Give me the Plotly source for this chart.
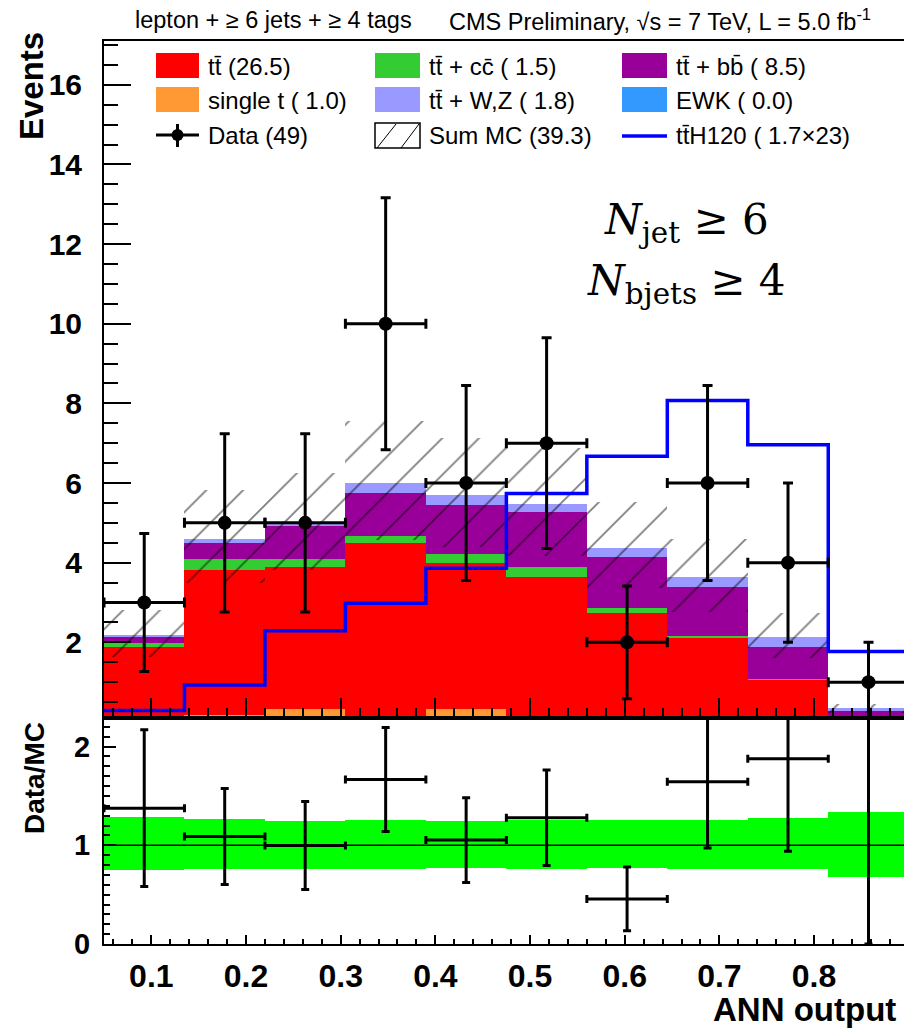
import numpy as np
import plotly.graph_objects as go

# ---------------- data ----------------
bin_edges = [0.05, 0.135, 0.22, 0.305, 0.39, 0.475, 0.56, 0.645, 0.73, 0.815, 0.9]
single_t = [0.00, 0.18, 0.33, 0.00, 0.33, 0.05, 0.03, 0.02, 0.02, 0.00]
ttbar    = [1.89, 3.64, 3.56, 4.50, 3.66, 3.60, 2.70, 2.08, 1.04, 0.02]
tt_cc    = [0.09, 0.27, 0.20, 0.16, 0.23, 0.25, 0.14, 0.07, 0.02, 0.00]
tt_bb    = [0.16, 0.41, 0.82, 1.08, 1.23, 1.37, 1.27, 1.21, 0.81, 0.25]
tt_wz    = [0.04, 0.09, 0.10, 0.26, 0.25, 0.20, 0.24, 0.27, 0.24, 0.07]
ewk      = [0.00, 0.00, 0.00, 0.00, 0.00, 0.00, 0.00, 0.00, 0.00, 0.00]
tth120_x23 = [0.29, 0.93, 2.29, 2.98, 3.86, 5.74, 6.67, 8.07, 6.96, 1.77]
data_counts = [3, 5, 5, 10, 6, 7, 2, 6, 4, 1]
mc_rel_up   = [0.29, 0.27, 0.25, 0.26, 0.25, 0.26, 0.26, 0.26, 0.28, 0.34]
mc_rel_down = [0.25, 0.24, 0.24, 0.24, 0.23, 0.24, 0.23, 0.24, 0.24, 0.32]

legend_labels = [
    ["tt\u0304 (26.5)", "single t ( 1.0)", "Data (49)"],
    ["tt\u0304 + cc\u0304 ( 1.5)", "tt\u0304 + W,Z ( 1.8)", "Sum MC (39.3)"],
    ["tt\u0304 + bb\u0304 ( 8.5)", "EWK ( 0.0)", "tt\u0304H120 ( 1.7\u00d723)"],
]
title_left = "lepton + \u2265 6 jets + \u2265 4 tags"
title_right = "CMS Preliminary, \u221as = 7 TeV, L = 5.0 fb<sup>-1</sup>"

C_ST, C_TT, C_CC, C_BB, C_WZ, C_EWK = "#FF9933", "#FF0000", "#33CC33", "#990099", "#9999FF", "#3399FF"

edges = np.array(bin_edges)
centers = (edges[:-1] + edges[1:]) / 2
widths = np.diff(edges)

stack = [(single_t, C_ST), (ttbar, C_TT), (tt_cc, C_CC), (tt_bb, C_BB), (tt_wz, C_WZ), (ewk, C_EWK)]
cum = np.cumsum([np.array(v, float) for v, _ in stack], axis=0)
total = cum[-1]
data_arr = np.array(data_counts, float)
derr = np.sqrt(data_arr)
rup = np.array(mc_rel_up)
rdn = np.array(mc_rel_down)

fig = go.Figure()

# stacked histograms (drawn top cumulative first, overlay mode)
for i in range(len(stack) - 1, -1, -1):
    fig.add_trace(go.Bar(x=centers, y=cum[i], width=widths, marker=dict(color=stack[i][1], line=dict(width=0)),
                         xaxis="x", yaxis="y", hoverinfo="skip"))

# hatched MC uncertainty
fig.add_trace(go.Bar(x=centers, base=total * (1 - rdn), y=total * (rup + rdn), width=widths,
                     marker=dict(color="rgba(0,0,0,0)", line=dict(width=0),
                                 pattern=dict(shape="/", fgcolor="black", bgcolor="rgba(0,0,0,0)",
                                              size=26, solidity=0.07, fillmode="overlay")),
                     xaxis="x", yaxis="y", hoverinfo="skip"))

# ttH step line
fig.add_trace(go.Scatter(x=bin_edges, y=tth120_x23 + [tth120_x23[-1]], mode="lines",
                         line=dict(color="#0000FF", width=3.5, shape="hv"), xaxis="x", yaxis="y"))

# data points
fig.add_trace(go.Scatter(x=centers, y=data_arr, mode="markers",
                         marker=dict(color="black", size=14),
                         error_x=dict(type="data", array=widths / 2, color="black", thickness=3, width=5),
                         error_y=dict(type="data", array=derr, color="black", thickness=3, width=5),
                         xaxis="x", yaxis="y"))

# ratio panel: band
fig.add_trace(go.Bar(x=centers, base=1 - rdn, y=rup + rdn, width=widths,
                     marker=dict(color="#00FF00", line=dict(width=0)), xaxis="x2", yaxis="y2", hoverinfo="skip"))
fig.add_trace(go.Scatter(x=[bin_edges[0], bin_edges[-1]], y=[1, 1], mode="lines",
                         line=dict(color="black", width=1.5), xaxis="x2", yaxis="y2"))
ratio = data_arr / total
ratio_err = derr / total
fig.add_trace(go.Scatter(x=centers, y=ratio, mode="markers", marker=dict(color="black", size=1),
                         error_x=dict(type="data", array=widths / 2, color="black", thickness=3, width=4),
                         error_y=dict(type="data", array=ratio_err, color="black", thickness=3, width=4),
                         xaxis="x2", yaxis="y2"))

W, H = 904, 1029
ML, MR, MT, MB = 104, 0, 41, 85
PW, PH = W - ML - MR, H - MT - MB
SPLIT = (944 - 718) / PH


def pxx(x):
    return (x - ML) / PW


def pxy(y):
    return (H - MB - y) / PH


tick_font = dict(family="Liberation Sans", size=30, color="black", weight="bold")
axis_common = dict(showgrid=False, zeroline=False, showline=True, linecolor="black", linewidth=2,
                   tickcolor="black", tickwidth=1.5, ticks="inside")

fig.update_layout(
    width=W, height=H, margin=dict(l=ML, r=MR, t=MT, b=MB),
    plot_bgcolor="white", paper_bgcolor="white", barmode="overlay", bargap=0, showlegend=False,
    xaxis=dict(domain=[0, 1], anchor="y", range=[0.05, 0.895], showticklabels=False, tick0=0, dtick=0.1,
               ticklen=20, minor=dict(ticks="inside", dtick=0.02, ticklen=10, tickcolor="black", tickwidth=1.5),
               mirror=True, **axis_common),
    yaxis=dict(domain=[SPLIT, 1], anchor="x", range=[0.1, 17.1], tick0=0, dtick=2, ticklen=27,
               minor=dict(ticks="inside", dtick=0.5, ticklen=14, tickcolor="black", tickwidth=1.5),
               tickfont=tick_font, ticklabelstandoff=14, **axis_common),
    xaxis2=dict(domain=[0, 1], anchor="y2", matches="x", range=[0.05, 0.895], tick0=0, dtick=0.1,
                ticklen=9, minor=dict(ticks="inside", dtick=0.02, ticklen=5, tickcolor="black", tickwidth=1.5),
                tickfont=dict(family="Liberation Sans", size=32, color="black", weight="bold"),
                ticklabelstandoff=3, mirror=True, **axis_common),
    yaxis2=dict(domain=[0, SPLIT], anchor="x2", range=[0, 2.29], tick0=0, dtick=1, ticklen=12,
                minor=dict(ticks="inside", dtick=0.1, ticklen=6, tickcolor="black", tickwidth=1.5),
                tickfont=dict(family="Liberation Sans", size=29, color="black", weight="bold"),
                ticklabelstandoff=6, **axis_common),
)

shapes = []
ann = []

# titles
ann.append(dict(x=pxx(133), y=pxy(20), xref="paper", yref="paper", xanchor="left", yanchor="middle",
                text=title_left, showarrow=False, font=dict(family="Liberation Sans", size=23.5, color="black")))
ann.append(dict(x=pxx(447), y=pxy(20), xref="paper", yref="paper", xanchor="left", yanchor="middle",
                text=title_right, showarrow=False, font=dict(family="Liberation Sans", size=23.5, color="black")))

# axis titles
ann.append(dict(x=pxx(31), y=pxy(30), xref="paper", yref="paper", xanchor="center", yanchor="top",
                text="Events", textangle=-90, showarrow=False,
                font=dict(family="Liberation Sans", size=33, color="black", weight="bold")))
ann.append(dict(x=pxx(34), y=pxy(720), xref="paper", yref="paper", xanchor="center", yanchor="top",
                text="Data/MC", textangle=-90, showarrow=False,
                font=dict(family="Liberation Sans", size=28, color="black", weight="bold")))
ann.append(dict(x=pxx(898), y=pxy(1009), xref="paper", yref="paper", xanchor="right", yanchor="middle",
                text="ANN output", showarrow=False,
                font=dict(family="Liberation Sans", size=33, color="black", weight="bold")))

# N_jet annotation
ann.append(dict(x=pxx(686), y=pxy(222), xref="paper", yref="paper", xanchor="center", yanchor="middle",
                text="<i>N</i><sub>jet</sub> \u2265 6", showarrow=False,
                font=dict(family="DejaVu Serif", size=42, color="black")))
ann.append(dict(x=pxx(686), y=pxy(283), xref="paper", yref="paper", xanchor="center", yanchor="middle",
                text="<i>N</i><sub>bjets</sub> \u2265 4", showarrow=False,
                font=dict(family="DejaVu Serif", size=42, color="black")))

# custom legend
col_box = [(156, 199), (375, 420), (622, 667)]
col_text = [206, 427, 674]
row_box = [(53, 78), (87, 112), (123, 148)]
row_mid = [66, 100, 136]
box_colors = [[C_TT, C_ST], [C_CC, C_WZ], [C_BB, C_EWK]]
for c in range(3):
    for r in range(2):
        shapes.append(dict(type="rect", xref="paper", yref="paper",
                           x0=pxx(col_box[c][0]), x1=pxx(col_box[c][1]),
                           y0=pxy(row_box[r][1]), y1=pxy(row_box[r][0]),
                           fillcolor=box_colors[c][r], line=dict(width=0)))
    for r in range(3):
        ann.append(dict(x=pxx(col_text[c]), y=pxy(row_mid[r]), xref="paper", yref="paper",
                        xanchor="left", yanchor="middle", text=legend_labels[c][r], showarrow=False,
                        font=dict(family="Liberation Sans", size=24, color="black")))

# data legend marker
cx = (col_box[0][0] + col_box[0][1]) / 2
shapes.append(dict(type="line", xref="paper", yref="paper", x0=pxx(col_box[0][0]), x1=pxx(col_box[0][1]),
                   y0=pxy(135), y1=pxy(135), line=dict(color="black", width=3)))
shapes.append(dict(type="line", xref="paper", yref="paper", x0=pxx(cx), x1=pxx(cx),
                   y0=pxy(124), y1=pxy(147), line=dict(color="black", width=3)))
shapes.append(dict(type="circle", xref="paper", yref="paper", x0=pxx(cx - 6), x1=pxx(cx + 6),
                   y0=pxy(141), y1=pxy(129), fillcolor="black", line=dict(width=0)))
# hatched legend box
shapes.append(dict(type="rect", xref="paper", yref="paper", x0=pxx(375), x1=pxx(420),
                   y0=pxy(148), y1=pxy(123), fillcolor="rgba(0,0,0,0)", line=dict(color="black", width=1.5)))
for (xa, xb) in [(377, 396), (401, 419)]:
    shapes.append(dict(type="line", xref="paper", yref="paper", x0=pxx(xa), x1=pxx(xb),
                       y0=pxy(148), y1=pxy(124), line=dict(color="black", width=1)))
# ttH legend line
shapes.append(dict(type="line", xref="paper", yref="paper", x0=pxx(622), x1=pxx(667),
                   y0=pxy(136), y1=pxy(136), line=dict(color="#0000FF", width=3.5)))

fig.update_layout(shapes=shapes, annotations=ann)
fig.write_html("out.html")
